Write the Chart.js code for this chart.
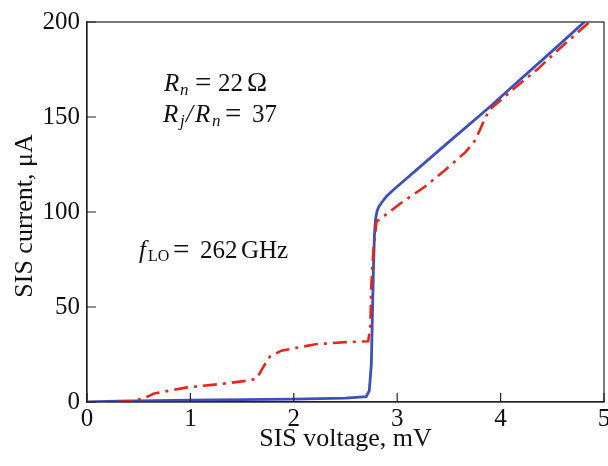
<!DOCTYPE html>
<html>
<head>
<meta charset="utf-8">
<script src="https://cdn.jsdelivr.net/npm/chart.js@4.4.0/dist/chart.umd.min.js"></script>
<style>
  html, body { margin: 0; padding: 0; background: #fff; }
  canvas { display: block; }
</style>
</head>
<body>
<canvas id="ivChart" width="608" height="466"></canvas>
<script>
// unpumped IV curve (blue, solid)
const dcVoltage = [0, 0.3, 1.0, 2.0, 2.5, 2.70, 2.73, 2.75, 2.76, 2.77, 2.78, 2.79, 2.805, 2.825, 2.85, 2.90, 2.97, 3.48, 3.90, 4.16, 4.45, 4.81];
const dcCurrent = [0, 0.5, 1.0, 1.5, 2.0, 2.8, 6, 20, 45, 70, 88, 96, 100.5, 103, 105, 108.5, 112, 136, 155.5, 168.3, 182.3, 200];

// pumped IV curve at f_LO = 262 GHz (red, dash-dot)
const loVoltage = [0.30, 0.45, 0.55, 0.65, 0.97, 1.30, 1.56, 1.64, 1.70, 1.77, 1.88, 2.21, 2.50, 2.72, 2.74, 2.75, 2.77, 2.80, 2.90, 3.03, 3.26, 3.45, 3.66, 3.74, 3.79, 3.855, 3.90, 4.13, 4.36, 4.55, 4.78, 4.86];
const loCurrent = [0, 0.5, 2, 4.5, 7.7, 9.5, 11.3, 12.3, 18, 24, 27, 30.4, 31.5, 32, 40, 62, 80, 95, 99, 104.5, 113, 121.5, 131.5, 136.5, 142, 150, 154, 165, 175.3, 185, 196.2, 200];

const xTicks = [0, 1, 2, 3, 4, 5];
const yTicks = [0, 50, 100, 150, 200];

const toPoints = (xs, ys) => xs.map((x, i) => ({ x: x, y: ys[i] }));

const serif = '"Liberation Serif", "DejaVu Serif", serif';

// box around the plot + ticks pointing inward + y title
const frameAndTicks = {
  id: 'frameAndTicks',
  afterDraw(chart) {
    const ctx = chart.ctx;
    const a = chart.chartArea;
    const xs = chart.scales.x;
    const ys = chart.scales.y;
    ctx.save();
    ctx.strokeStyle = '#222';
    ctx.lineWidth = 1.2;
    ctx.strokeRect(a.left, a.top, a.right - a.left, a.bottom - a.top);
    ctx.beginPath();
    xTicks.forEach(v => {
      const px = xs.getPixelForValue(v);
      ctx.moveTo(px, a.bottom);
      ctx.lineTo(px, a.bottom - 9);
    });
    yTicks.forEach(v => {
      const py = ys.getPixelForValue(v);
      ctx.moveTo(a.left, py);
      ctx.lineTo(a.left + 9, py);
    });
    ctx.stroke();

    ctx.translate(25, 216);
    ctx.rotate(-Math.PI / 2);
    ctx.fillStyle = '#111';
    ctx.font = '26px ' + serif;
    ctx.textAlign = 'center';
    ctx.textBaseline = 'middle';
    ctx.fillText('SIS current, μA', 0, 0);
    ctx.restore();
  }
};

// the parameter labels inside the plot, piece by piece
function drawRuns(ctx, y, runs) {
  runs.forEach(r => {
    ctx.font = r.font;
    ctx.fillText(r.t, r.x, y + (r.dy || 0));
  });
}

const notes = {
  id: 'notes',
  afterDraw(chart) {
    const ctx = chart.ctx;
    const it = 'italic 25px ' + serif;
    const rm = '25px ' + serif;
    const eq = '29px ' + serif;
    const subIt = 'italic 17px ' + serif;
    const subRm = '16px ' + serif;
    ctx.save();
    ctx.fillStyle = '#111';
    ctx.textBaseline = 'alphabetic';
    drawRuns(ctx, 91, [
      { t: 'R', font: it, x: 164 },
      { t: 'n', font: subIt, x: 180, dy: 4 },
      { t: '=', font: eq, x: 195, dy: 1 },
      { t: '22', font: rm, x: 218 },
      { t: 'Ω', font: '27px ' + serif, x: 247 }
    ]);
    drawRuns(ctx, 122, [
      { t: 'R', font: it, x: 163 },
      { t: 'j', font: subIt, x: 180, dy: 4 },
      { t: '/', font: it, x: 186 },
      { t: 'R', font: it, x: 195 },
      { t: 'n', font: subIt, x: 212, dy: 4 },
      { t: '=', font: eq, x: 225, dy: 1 },
      { t: '37', font: rm, x: 252 }
    ]);
    drawRuns(ctx, 258, [
      { t: 'f', font: it, x: 139 },
      { t: 'LO', font: subRm, x: 148, dy: 3 },
      { t: '=', font: eq, x: 173, dy: 1 },
      { t: '262', font: rm, x: 200 },
      { t: 'GHz', font: rm, x: 241 }
    ]);
    ctx.restore();
  }
};

new Chart(document.getElementById('ivChart'), {
  type: 'line',
  data: {
    datasets: [
      {
        label: 'pumped',
        data: toPoints(loVoltage, loCurrent),
        borderColor: '#e2281e',
        borderWidth: 2.6,
        borderDash: [14, 6, 3, 6],
        pointRadius: 0,
        tension: 0,
        fill: false
      },
      {
        label: 'unpumped',
        data: toPoints(dcVoltage, dcCurrent),
        borderColor: '#3d4fb8',
        borderWidth: 2.8,
        pointRadius: 0,
        tension: 0,
        fill: false
      }
    ]
  },
  options: {
    responsive: false,
    animation: false,
    maintainAspectRatio: false,
    layout: { padding: { top: 19, right: 4, left: 0, bottom: 0 } },
    plugins: {
      legend: { display: false },
      tooltip: { enabled: false }
    },
    scales: {
      x: {
        type: 'linear',
        min: 0,
        max: 5,
        afterBuildTicks: s => { s.ticks = xTicks.map(v => ({ value: v })); },
        afterFit: s => { s.height = 64; s.paddingRight = 0; },
        grid: { display: true, drawOnChartArea: false, drawTicks: false },
        border: { display: true, color: '#222', width: 1.2 },
        ticks: { color: '#111', font: { family: serif, size: 25 }, padding: 2, maxRotation: 0 },
        title: {
          display: true,
          text: 'SIS voltage, mV',
          color: '#111',
          font: { family: serif, size: 26, lineHeight: 1.2 },
          padding: { top: 0, bottom: 11 }
        }
      },
      y: {
        type: 'linear',
        min: 0,
        max: 200,
        afterBuildTicks: s => { s.ticks = yTicks.map(v => ({ value: v })); },
        afterFit: s => { s.width = 87; },
        grid: { display: true, drawOnChartArea: false, drawTicks: false },
        border: { display: true, color: '#222', width: 1.2 },
        ticks: { color: '#111', font: { family: serif, size: 25 }, padding: 7 },
        title: { display: false }
      }
    }
  },
  plugins: [frameAndTicks, notes]
});
</script>
</body>
</html>
